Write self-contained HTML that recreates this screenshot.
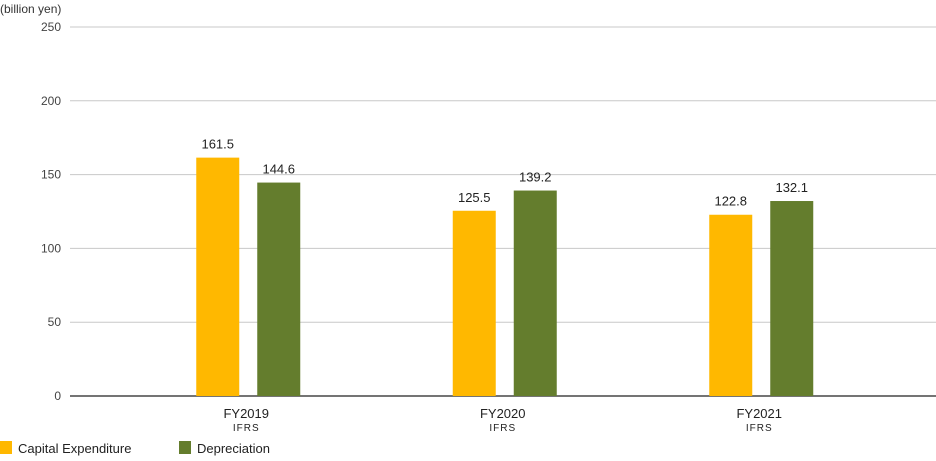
<!DOCTYPE html>
<html><head><meta charset="utf-8"><style>
body{margin:0;background:#fff;font-family:"Liberation Sans",sans-serif;}
svg text{font-family:"Liberation Sans",sans-serif;}
</style></head><body>
<svg id="chart" width="936" height="456" viewBox="0 0 936 456" xmlns="http://www.w3.org/2000/svg">
<text x="0" y="13" font-size="12" fill="#333">(billion yen)</text>
<g id="grid"></g><g id="bars"></g><g id="xlabels"></g>
<g>
<rect x="0" y="441" width="12" height="13" fill="#FFB800"/>
<text x="18" y="453" font-size="13" fill="#222">Capital Expenditure</text>
<rect x="179" y="441" width="12" height="13" fill="#647D2D"/>
<text x="197" y="453" font-size="13" fill="#222">Depreciation</text>
</g>
</svg>
<script>
const categories=["FY2019","FY2020","FY2021"];
const subLabels=["IFRS","IFRS","IFRS"];
const capex=[161.5,125.5,122.8];
const depreciation=[144.6,139.2,132.1];
const yTicks=[0,50,100,150,200,250];
const NS="http://www.w3.org/2000/svg";
const y0=396,y1=27,yMax=250;
function y(v){return y0-(v/yMax)*(y0-y1);}
const xStart=118,band=256.5;
function xc(i){return xStart+band*(i+0.5);}
function mk(tag,attrs,parent){const e=document.createElementNS(NS,tag);for(const k in attrs)e.setAttribute(k,attrs[k]);parent.appendChild(e);return e;}
const grid=document.getElementById('grid'),bars=document.getElementById('bars'),xl=document.getElementById('xlabels');
yTicks.forEach(t=>{
  const l=mk('line',{x1:70,x2:936,y1:y(t),y2:y(t),stroke:t===0?'#222':'#c8c8c8','stroke-width':t===0?1.3:1},grid);
  
  
  const tx=mk('text',{x:61,y:y(t)+4,'text-anchor':'end','font-size':12,fill:'#444'},grid);
  tx.textContent=t;
  
  
});
const bw=43,gap=18;
categories.forEach((c,i)=>{
  const cx=xc(i)+2;
  [[capex[i],'#FFB800',cx-gap/2-bw,'capex'],[depreciation[i],'#647D2D',cx+gap/2,'depreciation']].forEach(([v,col,x,nm])=>{
    const r=mk('rect',{x:x,y:y(v),width:bw,height:y0-y(v),fill:col},bars);
    
    
    const t=mk('text',{x:x+bw/2,y:y(v)-9,'text-anchor':'middle','font-size':13,fill:'#222'},bars);
    t.textContent=v.toFixed(1);
    
    
  });
  const a=mk('text',{x:xc(i),y:418,'text-anchor':'middle','font-size':13,fill:'#222'},xl);
  a.textContent=c;
  
  
  const b=mk('text',{x:xc(i),y:431,'text-anchor':'middle','font-size':10,fill:'#222','letter-spacing':'1'},xl);
  b.textContent=subLabels[i];
  
  
});
</script>
</body></html>
